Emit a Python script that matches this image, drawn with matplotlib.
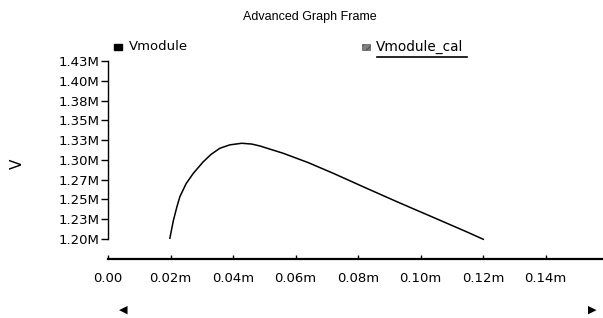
import numpy as np
import matplotlib
matplotlib.use("Agg")
import matplotlib.pyplot as plt
from matplotlib.patches import Rectangle

plt.rcParams['font.family'] = ['DejaVu Sans']

# curve (x in m, y in M)
x_vals = [0.0198, 0.0209, 0.0220, 0.0230, 0.0250, 0.0273, 0.0305, 0.0330, 0.0358,
          0.0390, 0.0428, 0.0460, 0.0486, 0.0561, 0.0641, 0.0721, 0.0828, 0.0934,
          0.1041, 0.1148, 0.1201]
y_vals = [1.2010, 1.2230, 1.2400, 1.2535, 1.2700, 1.2830, 1.2977, 1.3070, 1.3147,
          1.3190, 1.3210, 1.3200, 1.3176, 1.3083, 1.2965, 1.2830, 1.2640, 1.2455,
          1.2273, 1.2090, 1.1996]

x_ticks = [0.0, 0.02, 0.04, 0.06, 0.08, 0.10, 0.12, 0.14]
x_labels = ['0.00', '0.02m', '0.04m', '0.06m', '0.08m', '0.10m', '0.12m', '0.14m']
y_ticks = [1.200, 1.225, 1.250, 1.275, 1.300, 1.325, 1.350, 1.375, 1.400, 1.425]
y_labels = ['1.20M', '1.23M', '1.25M', '1.27M', '1.30M', '1.33M', '1.35M', '1.38M', '1.40M', '1.43M']

W, H = 603, 318
fig = plt.figure(figsize=(W / 100, H / 100), dpi=100)
# axes box in pixels: left 108, right 603, top 61, bottom 259
ax = fig.add_axes([108 / W, 1 - 259 / H, (603 - 108) / W, (259 - 61) / H])

ax.plot(x_vals, y_vals, color='black', lw=1.1)

ax.set_xlim(0, 0.1584)
ax.set_ylim(1.1747, 1.425)
ax.set_xticks(x_ticks)
ax.set_xticklabels(x_labels)
ax.set_yticks(y_ticks)
ax.set_yticklabels(y_labels)

for s in ['top', 'right']:
    ax.spines[s].set_visible(False)
ax.spines['left'].set_bounds(1.200, 1.425)
ax.spines['left'].set_linewidth(1.0)
ax.spines['bottom'].set_linewidth(1.6)
ax.tick_params(axis='y', direction='out', length=5, width=1, pad=1, labelsize=9.5)
ax.tick_params(axis='x', direction='in', length=3, width=1, pad=9, labelsize=9.5)
ax.patch.set_alpha(0)

# y label, title and legend, placed in figure pixels
fig.text(17 / W, 1 - 164 / H, 'V', rotation=90, ha='center', va='center', fontsize=11)
fig.text(310 / W, 1 - 17 / H, 'Advanced Graph Frame', ha='center', va='center',
         fontsize=9, family='Liberation Sans')
fig.patches.append(Rectangle((114 / W, 1 - 50 / H), 8 / W, 6 / H, transform=fig.transFigure,
                             facecolor='black', edgecolor='black'))
fig.text(129 / W, 1 - 47 / H, 'Vmodule', ha='left', va='center', fontsize=9.5)
fig.patches.append(Rectangle((362 / W, 1 - 50 / H), 8 / W, 6 / H, transform=fig.transFigure,
                             facecolor='#808080', edgecolor='#555555', hatch='////', lw=0.5))
fig.text(376 / W, 1 - 47 / H, 'Vmodule_cal', ha='left', va='center', fontsize=9.8)
fig.add_artist(plt.Line2D([377 / W, 467 / W], [1 - 57 / H, 1 - 57 / H], color='black', lw=1.2))

# scroll arrows
fig.text(123 / W, 1 - 310 / H, '\u25c0', ha='center', va='center', fontsize=8)
fig.text(592 / W, 1 - 310 / H, '\u25b6', ha='center', va='center', fontsize=8)

fig.savefig('out.png', dpi=100)
